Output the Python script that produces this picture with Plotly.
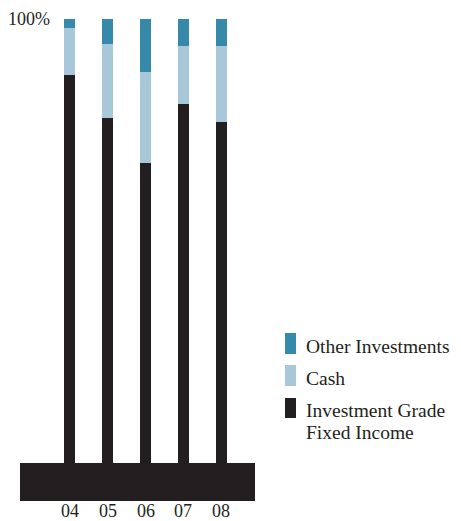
import plotly.graph_objects as go

# Portfolio allocation by year (percent of total)
years = ["04", "05", "06", "07", "08"]
fixed_income = [87.5, 77.7, 67.5, 80.8, 76.7]
cash = [10.5, 16.6, 20.5, 13.1, 17.2]
other = [2.0, 5.7, 12.0, 6.1, 6.1]

series_names = ["Investment Grade Fixed Income", "Cash", "Other Investments"]
series_colors = ["#231f20", "#a8c7d8", "#3789a9"]

FONT = "Liberation Serif"
TEXT_COLOR = "#231f20"

fig = go.Figure()
for name, vals, color in zip(series_names, [fixed_income, cash, other], series_colors):
    fig.add_trace(go.Bar(
        x=years, y=vals, name=name, width=0.29,
        marker=dict(color=color, line=dict(width=0)),
        showlegend=False,
    ))

# Solid base band under the columns
base_depth = 8.56
fig.add_shape(type="rect", xref="paper", yref="y", x0=0, x1=1, y0=-base_depth, y1=0,
              fillcolor="#231f20", line=dict(width=0), layer="above")

plot_left, plot_w, plot_bottom, plot_h = 20, 235, 501, 482
def px_x(px):
    return (px - plot_left) / plot_w
def px_y(py):
    return (plot_bottom - py) / plot_h

# Year labels under the base band (category index positions)
for i, yr in enumerate(years):
    fig.add_annotation(text=yr, xref="x", yref="paper", x=i, y=px_y(511.5),
                       xanchor="center", yanchor="middle", showarrow=False,
                       font=dict(family=FONT, size=18, color=TEXT_COLOR))

# 100% marker
fig.add_annotation(text="100%", xref="paper", yref="y", x=0.136, y=100,
                   xanchor="right", yanchor="middle", showarrow=False,
                   font=dict(family=FONT, size=18, color=TEXT_COLOR))

# Legend drawn as swatches with labels (top of list = top of stack)
legend_items = [
    (["Other Investments"], series_colors[2], 333, 354, [346.5]),
    (["Cash"], series_colors[1], 365, 386, [378.5]),
    (["Investment Grade", "Fixed Income"], series_colors[0], 398, 418, [410.5, 432]),
]
for lines, color, top, bottom, mids in legend_items:
    fig.add_shape(type="rect", xref="paper", yref="paper",
                  x0=px_x(285), x1=px_x(296), y0=px_y(bottom), y1=px_y(top),
                  fillcolor=color, line=dict(width=0))
    for line, mid in zip(lines, mids):
        fig.add_annotation(text=line, xref="paper", yref="paper",
                           x=px_x(304), y=px_y(mid), xanchor="left", yanchor="middle",
                           align="left", showarrow=False,
                           font=dict(family=FONT, size=19.5, color=TEXT_COLOR))

fig.update_layout(
    barmode="stack",
    width=461, height=521,
    margin=dict(l=20, r=206, t=19, b=20, autoexpand=False),
    paper_bgcolor="white", plot_bgcolor="white",
    font=dict(family=FONT, size=18, color=TEXT_COLOR),
    xaxis=dict(type="category", range=[-1.316, 4.893], showgrid=False, zeroline=False,
               showline=False, ticks="", showticklabels=False, automargin=False),
    yaxis=dict(range=[-base_depth, 100], showgrid=False, zeroline=False,
               showline=False, showticklabels=False, ticks="", automargin=False),
)

fig.write_html("out.html")
